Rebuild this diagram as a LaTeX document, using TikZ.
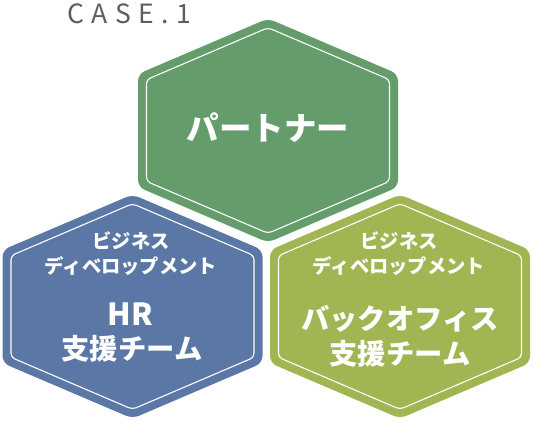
\documentclass[tikz,border=0pt]{standalone}
\usepackage{fontspec}
\newfontfamily\jp{Noto Sans CJK JP}
\newfontfamily\jpcase[LetterSpace=28]{Noto Sans CJK JP}
\definecolor{hgreen}{HTML}{649C6B}
\definecolor{hblue}{HTML}{5B77A5}
\definecolor{holive}{HTML}{A2B553}
\definecolor{casegray}{HTML}{5E5E5E}
\newcommand\drawhexa[3]{%
  \begin{scope}[shift={(#1,#2)}]
    \fill[#3,rounded corners=7bp] (65,-84.25) -- (130,-56.5) -- (130,56.5) -- (0,112) -- (-130,56.5) -- (-130,-56.5) -- (0,-112) -- cycle;
    \draw[innerline] (60.75,-76.8) -- (121.5,-50.85) -- (121.5,50.85) -- (0,102.8) -- (-121.5,50.85) -- (-121.5,-50.85) -- (0,-102.8) -- cycle;
  \end{scope}}
\begin{document}
\begin{tikzpicture}[x=1bp,y=-1bp,
  innerline/.style={draw=white,line width=1.1bp,rounded corners=4bp},
  small/.style={text=white,inner sep=0pt,anchor=base,font=\jp\bfseries\fontsize{19.3bp}{22bp}\selectfont},
  big/.style={text=white,inner sep=0pt,anchor=base,font=\jp\bfseries\fontsize{28.3bp}{32bp}\selectfont},
  title/.style={text=white,inner sep=0pt,anchor=base,font=\jp\bfseries\fontsize{32.5bp}{36bp}\selectfont}]
\useasboundingbox (0,0) rectangle (534,422);
\drawhexa{268}{130.5}{hgreen}
\drawhexa{132.5}{306.5}{hblue}
\drawhexa{400}{306.5}{holive}
\node[anchor=base west,inner sep=0pt,text=casegray,font=\jpcase\fontsize{26.5bp}{30bp}\selectfont] (case) at (67,23) {CASE.1};
\node[title] (partner) at (268,140) {パートナー};
\node[small] (b1) at (131,248) {ビジネス};
\node[small] (b2) at (131,273) {ディベロップメント};
\node[big,font=\jp\bfseries\fontsize{30.5bp}{34bp}\selectfont] (b3) at (130,325) {HR};
\node[big] (b4) at (132,359) {支援チーム};
\node[small] (o1) at (399,248) {ビジネス};
\node[small] (o2) at (399,273) {ディベロップメント};
\node[big] (o3) at (400,329) {バックオフィス};
\node[big] (o4) at (400,364) {支援チーム};
\end{tikzpicture}
\end{document}
